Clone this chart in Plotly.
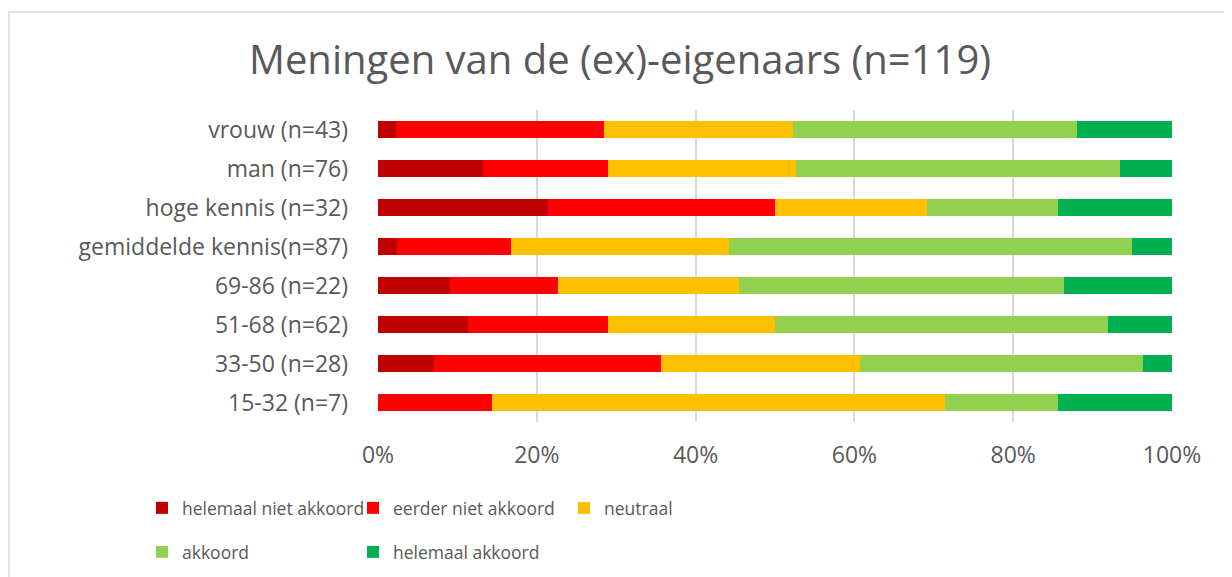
import plotly.graph_objects as go

categories = ["vrouw (n=43)", "man (n=76)", "hoge kennis (n=32)", "gemiddelde kennis(n=87)",
              "69-86 (n=22)", "51-68 (n=62)", "33-50 (n=28)", "15-32 (n=7)"]
series_names = ["helemaal niet akkoord", "eerder niet akkoord", "neutraal", "akkoord", "helemaal akkoord"]
helemaal_niet = [2.3, 13.2, 21.4, 2.4, 9.1, 11.3, 7.1, 0.0]
eerder_niet = [26.1, 15.8, 28.6, 14.4, 13.6, 17.7, 28.6, 14.3]
neutraal = [23.9, 23.7, 19.1, 27.4, 22.7, 21.0, 25.0, 57.1]
akkoord = [35.7, 40.8, 16.6, 50.7, 40.9, 41.9, 35.7, 14.3]
helemaal = [12.0, 6.5, 14.3, 5.1, 13.6, 8.1, 3.6, 14.3]
tick_vals = [0, 20, 40, 60, 80, 100]
tick_text = [f"{v}%" for v in tick_vals]

colors = ["#C00000", "#FF0000", "#FFC000", "#92D050", "#00B050"]
values = [helemaal_niet, eerder_niet, neutraal, akkoord, helemaal]
legend_ids = ["legend", "legend", "legend", "legend2", "legend2"]

FONT = "Open Sans"
TXT = "#595959"
W, H = 1224, 569
L, R, T, B = 370, 60, 102, 155
PW, PH = W - L - R, H - T - B

fig = go.Figure()
for name, vals, col, lg in zip(series_names, values, colors, legend_ids):
    fig.add_trace(go.Bar(
        y=categories, x=vals, name=name, orientation="h",
        marker=dict(color=col, line=dict(width=0)),
        legend=lg,
    ))

legend_common = dict(
    orientation="h", xref="container", yref="container",
    xanchor="left", yanchor="middle",
    font=dict(family=FONT, size=17.5, color=TXT),
    entrywidth=166, entrywidthmode="pixels",
    bgcolor="rgba(0,0,0,0)", traceorder="normal",
)

fig.update_layout(
    width=W, height=H,
    barmode="stack", barnorm="percent", bargap=0.57,
    plot_bgcolor="white", paper_bgcolor="white",
    margin=dict(l=L, r=R, t=T, b=B),
    title=dict(text="Meningen van de (ex)-eigenaars (n=119)", x=0.5, xanchor="center",
               y=1 - 52 / H, yanchor="middle",
               font=dict(family=FONT, size=40, color=TXT)),
    xaxis=dict(range=[0, 100], tickmode="array", tickvals=tick_vals, ticktext=tick_text,
               showgrid=True, gridcolor="#D9D9D9", gridwidth=2,
               zeroline=False, showline=False,
               tickfont=dict(family=FONT, size=23, color=TXT), ticklabelstandoff=17),
    yaxis=dict(categoryorder="array", categoryarray=categories, autorange="reversed",
               showgrid=False, zeroline=False, showline=False,
               tickfont=dict(family=FONT, size=23, color=TXT), ticklabelstandoff=29),
    legend=dict(x=134 / W, y=1 - 500 / H, **legend_common),
    legend2=dict(x=134 / W, y=1 - 544 / H, **legend_common),
    showlegend=True,
    shapes=[dict(type="rect", xref="paper", yref="paper",
                 x0=(1 - L) / PW, x1=(W + 20 - L) / PW,
                 y0=-(H + 20 - T - PH) / PH, y1=(T + PH - 4) / PH,
                 line=dict(color="#D9D9D9", width=1.5), fillcolor="rgba(0,0,0,0)", layer="below")],
)

fig.write_html("out.html")
